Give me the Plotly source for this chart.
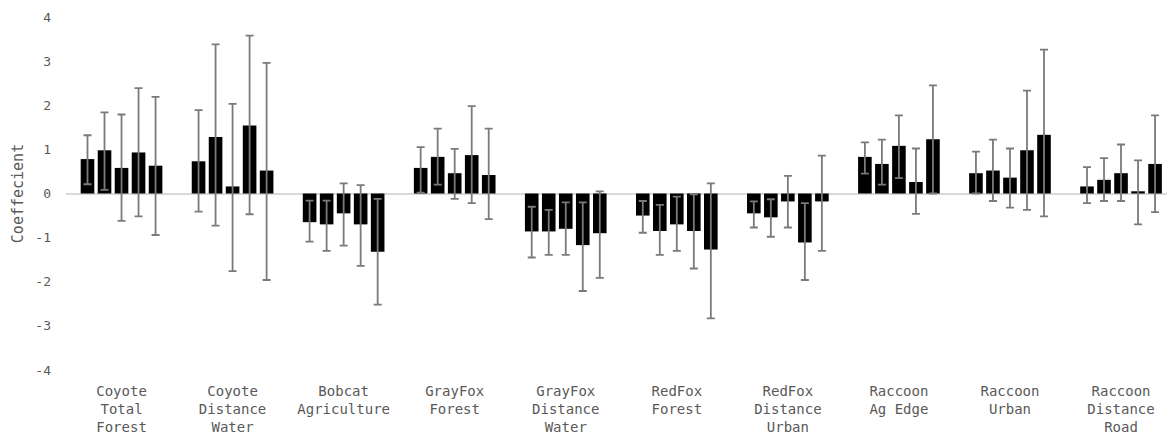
import plotly.graph_objects as go

# Habitat covariates (one group per species / covariate pair)
categories = [
    "Coyote<br>Total<br>Forest",
    "Coyote<br>Distance<br>Water",
    "Bobcat<br>Agriculture",
    "GrayFox<br>Forest",
    "GrayFox<br>Distance<br>Water",
    "RedFox<br>Forest",
    "RedFox<br>Distance<br>Urban",
    "Raccoon<br>Ag Edge",
    "Raccoon<br>Urban",
    "Raccoon<br>Distance<br>Road",
]

# Coefficient estimates for the five models within each group
coef_1 = [0.78, 0.73, -0.65, 0.58, -0.86, -0.50, -0.45, 0.83, 0.46, 0.16]
coef_2 = [0.98, 1.28, -0.70, 0.83, -0.86, -0.85, -0.54, 0.67, 0.52, 0.31]
coef_3 = [0.58, 0.16, -0.45, 0.46, -0.80, -0.70, -0.18, 1.08, 0.36, 0.46]
coef_4 = [0.93, 1.54, -0.70, 0.87, -1.17, -0.85, -1.11, 0.26, 0.98, 0.05]
coef_5 = [0.63, 0.52, -1.32, 0.42, -0.90, -1.27, -0.18, 1.23, 1.33, 0.67]

# Upper confidence limits
upper_1 = [1.32, 1.89, -0.16, 1.05, -0.30, -0.17, -0.18, 1.16, 0.95, 0.60]
upper_2 = [1.84, 3.38, -0.16, 1.47, -0.37, -0.26, -0.13, 1.22, 1.22, 0.80]
upper_3 = [1.79, 2.03, 0.23, 1.01, -0.20, -0.07, 0.40, 1.77, 1.02, 1.11]
upper_4 = [2.39, 3.58, 0.19, 1.98, -0.20, -0.02, -0.22, 1.02, 2.33, 0.75]
upper_5 = [2.19, 2.96, -0.12, 1.47, 0.05, 0.23, 0.86, 2.45, 3.26, 1.77]

# Lower confidence limits
lower_1 = [0.21, -0.41, -1.09, 0.02, -1.45, -0.89, -0.77, 0.45, 0.00, -0.22]
lower_2 = [0.08, -0.73, -1.30, 0.20, -1.39, -1.39, -0.98, 0.20, -0.17, -0.17]
lower_3 = [-0.62, -1.76, -1.18, -0.12, -1.39, -1.30, -0.77, 0.35, -0.32, -0.17]
lower_4 = [-0.52, -0.47, -1.64, -0.22, -2.21, -1.70, -1.96, -0.46, -0.37, -0.70]
lower_5 = [-0.94, -1.96, -2.52, -0.58, -1.91, -2.83, -1.30, 0.00, -0.52, -0.42]

y_ticks = [-4, -3, -2, -1, 0, 1, 2, 3, 4]
y_tick_labels = ["-4", "-3", "-2", "-1", "0", "1", "2", "3", "4"]

series = [
    (coef_1, upper_1, lower_1),
    (coef_2, upper_2, lower_2),
    (coef_3, upper_3, lower_3),
    (coef_4, upper_4, lower_4),
    (coef_5, upper_5, lower_5),
]

FONT = "DejaVu Sans Mono"
TEXT_GREY = "#595959"
x_idx = list(range(len(categories)))

fig = go.Figure()
for coef, up, lo in series:
    fig.add_trace(go.Bar(
        x=x_idx,
        y=coef,
        marker=dict(color="#000000", line=dict(width=0)),
        error_y=dict(
            type="data",
            symmetric=False,
            array=[u - c for u, c in zip(up, coef)],
            arrayminus=[c - l for c, l in zip(coef, lo)],
            color="#7a7a7a",
            thickness=1.8,
            width=4,
        ),
        showlegend=False,
    ))

fig.update_layout(
    width=1167,
    height=440,
    margin=dict(l=66, r=0, t=17, b=70),
    paper_bgcolor="white",
    plot_bgcolor="white",
    barmode="group",
    bargap=0.234,
    bargroupgap=0.2,
    font=dict(family=FONT, size=12, color=TEXT_GREY),
    xaxis=dict(
        range=[-0.5, 9.414],
        tickvals=x_idx,
        ticktext=categories,
        showgrid=False,
        zeroline=False,
        showline=False,
        ticks="",
        tickfont=dict(family=FONT, size=14, color=TEXT_GREY),
        ticklabelstandoff=11,
    ),
    yaxis=dict(
        range=[-4, 4],
        tickvals=y_ticks,
        ticktext=y_tick_labels,
        showgrid=False,
        zeroline=True,
        zerolinecolor="#d9d9d9",
        zerolinewidth=1.5,
        showline=False,
        ticks="",
        tickfont=dict(family=FONT, size=13, color=TEXT_GREY),
        ticklabelstandoff=14,
        title=dict(text="Coeffecient",
                   font=dict(family=FONT, size=15, color=TEXT_GREY),
                   standoff=8),
    ),
)

fig.write_html("out.html")
